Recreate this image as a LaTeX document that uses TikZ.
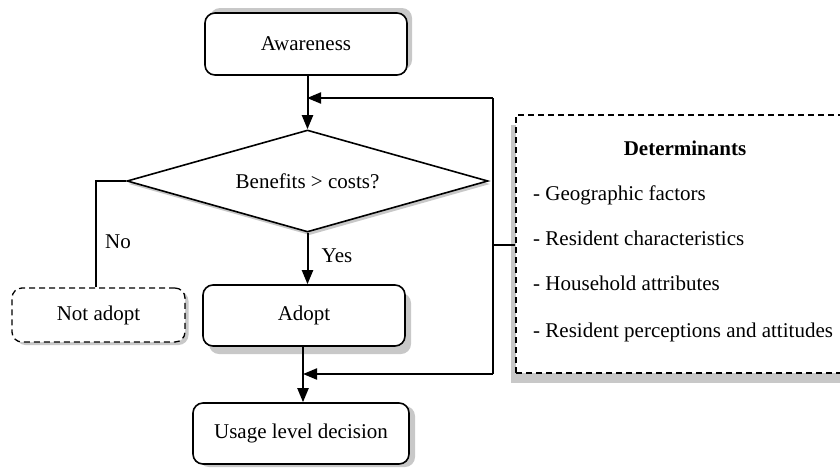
\documentclass[tikz,border=0pt]{standalone}
\usepackage{fontspec}
\setmainfont{Liberation Serif}
\usetikzlibrary{shapes.geometric,arrows.meta}
\definecolor{shadowgray}{RGB}{200,200,200}
\begin{document}
\begin{tikzpicture}[x=1pt,y=-1pt,
  every node/.style={font=\fontsize{21}{25}\selectfont},
  rbox/.style={draw,rounded corners=10pt,line width=1.6pt,fill=white,inner sep=0pt},
  dbox/.style={draw,rounded corners=10pt,line width=1.3pt,dash pattern=on 6pt off 4pt,fill=white,inner sep=0pt},
  shad/.style={fill=shadowgray,draw=none,rounded corners=10pt,inner sep=0pt},
  dia/.style={diamond,shape aspect=3.54,inner sep=0pt,minimum width=361pt,minimum height=102pt},
  conn/.style={line width=1.8pt},
  arr/.style={line width=2pt,-{Triangle[length=14pt,width=11pt]}},
  plain/.style={inner sep=0pt,anchor=base west}
]
\useasboundingbox (0,0) rectangle (840,467);

% shadows
\node[shad,minimum width=202pt,minimum height=62pt] (awS) at (311,39) {};
\node[shad,minimum width=202pt,minimum height=61pt] (adS) at (310,323.5) {};
\node[shad,minimum width=216pt,minimum height=61pt] (usS) at (307,436.5) {};
\node[shad,minimum width=173pt,minimum height=54pt] (naS) at (102,318) {};
\node[shad,rounded corners=0pt,minimum width=330pt,minimum height=258pt] (deS) at (676,254) {};
\node[dia,fill=shadowgray] (diS) at (309.5,184) {};

% main nodes
\node[rbox,minimum width=202pt,minimum height=62pt] (aw) at (306,44) {Awareness};
\node[dia,draw,fill=white,line width=1.6pt] (dia) at (307.5,181) {Benefits > costs?};
\node[rbox,minimum width=202pt,minimum height=61pt] (ad) at (304,315.5) {Adopt};
\node[rbox,minimum width=216pt,minimum height=61pt] (us) at (301,433.5) {Usage level decision};
\node[dbox,minimum width=173pt,minimum height=54pt] (na) at (98.5,315) {Not adopt};
\node[draw,fill=white,line width=1.3pt,dash pattern=on 6pt off 4pt,inner sep=0pt,minimum width=330pt,minimum height=258pt] (de) at (681,244) {};

% determinants text
\node[font=\fontsize{21}{25}\selectfont\bfseries] (dt) at (685,148) {Determinants};
\node[plain] (d1) at (533,200) {- Geographic factors};
\node[plain] (d2) at (533,245) {- Resident characteristics};
\node[plain] (d3) at (533,290) {- Household attributes};
\node[plain] (d4) at (533,337) {- Resident perceptions and attitudes};

% coordinates
\coordinate (f1) at (493,98);
\coordinate (f2) at (493,374);
\coordinate (fm) at (493,245);
\coordinate (j1) at (307,98);
\coordinate (j2) at (303,374);
\coordinate (nc) at (96,181);

% connectors
\draw[arr] (aw.south -| dia.north) -- (dia.north);
\draw[conn] (f2) -- (f1);
\draw[arr] (f1) -- (j1);
\draw[arr] (f2) -- (j2);
\draw[conn] (fm) -- (fm -| de.west);
\draw[arr] (dia.south) -- (dia.south |- ad.north);
\draw[arr] (j2 |- ad.south) -- (j2 |- us.north);
\draw[conn] (dia.west) -- (nc) -- (nc |- na.north);

% labels
\node (no) at (118,242) {No};
\node (yes) at (337,256) {Yes};
\end{tikzpicture}
\end{document}
